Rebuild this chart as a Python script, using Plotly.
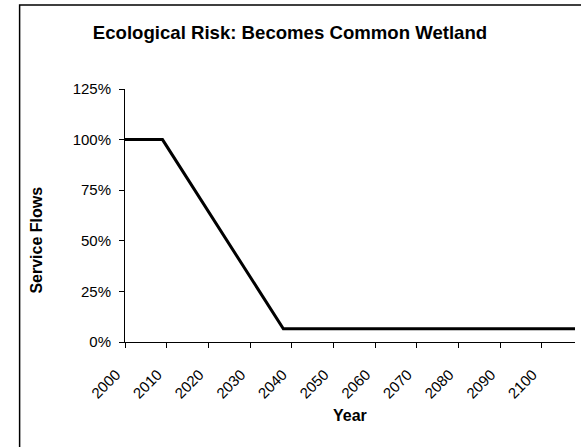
import plotly.graph_objects as go

# Service flow trajectory (share of baseline) by year
years = [2000, 2009, 2038, 2108]
service_flows = [1.00, 1.00, 0.065, 0.065]

tick_years = [2000, 2010, 2020, 2030, 2040, 2050, 2060, 2070, 2080, 2090, 2100]
y_ticks = [0, 0.25, 0.5, 0.75, 1.0, 1.25]
y_tick_labels = ["0%", "25%", "50%", "75%", "100%", "125%"]

font_family = "Liberation Sans, Arial, sans-serif"

# Plot-area geometry in pixels
W, H = 581, 447
L, R, T, B = 124.5, 6, 89, 105
pw, ph = W - L - R, H - T - B

fig = go.Figure()
fig.add_trace(go.Scatter(
    x=years, y=service_flows, mode="lines",
    line=dict(color="black", width=3),
    hoverinfo="skip", showlegend=False,
))

fig.update_layout(
    width=W, height=H,
    margin=dict(l=L, r=R, t=T, b=B),
    paper_bgcolor="white", plot_bgcolor="white",
    font=dict(family=font_family, size=15, color="black"),
    title=dict(
        text="<b>Ecological Risk: Becomes Common Wetland</b>",
        x=290 / W, xref="container", xanchor="center",
        y=1 - 32 / H, yanchor="middle", yref="container",
        font=dict(size=18.6, family=font_family, color="black"),
    ),
    xaxis=dict(
        range=[2000, 2108], tickmode="array", tickvals=tick_years,
        ticktext=[str(y) for y in tick_years], tickangle=-45,
        showgrid=False, zeroline=False,
        showline=True, linecolor="black", linewidth=1,
        ticks="outside", ticklen=5, tickcolor="black",
        tickfont=dict(size=15), ticklabelstandoff=12, ticklabelshift=-9,
    ),
    yaxis=dict(
        range=[0, 1.25], tickmode="array", tickvals=y_ticks,
        ticktext=y_tick_labels,
        showgrid=False, zeroline=False,
        showline=True, linecolor="black", linewidth=1,
        ticks="outside", ticklen=5, tickcolor="black",
        tickfont=dict(size=15), ticklabelstandoff=5,
    ),
)

# Axis titles
fig.add_annotation(
    text="<b>Year</b>", xref="paper", yref="paper",
    x=0.5, y=-(415 - (H - B)) / ph, xanchor="center", yanchor="middle",
    showarrow=False, font=dict(size=16),
)
fig.add_annotation(
    text="<b>Service Flows</b>", xref="paper", yref="paper",
    x=(35 - L) / pw, y=(H - B - 240) / ph, xanchor="center", yanchor="middle",
    textangle=-90, showarrow=False, font=dict(size=16),
)

# Chart-area frame (extends past the right and bottom edges of the page)
fig.add_shape(
    type="rect", xref="paper", yref="paper",
    x0=(19 - L) / pw, x1=1.2,
    y0=-0.6, y1=1 + (T - 5) / ph,
    line=dict(color="black", width=1.5), fillcolor="rgba(0,0,0,0)",
    layer="below",
)

fig.write_html("out.html")
